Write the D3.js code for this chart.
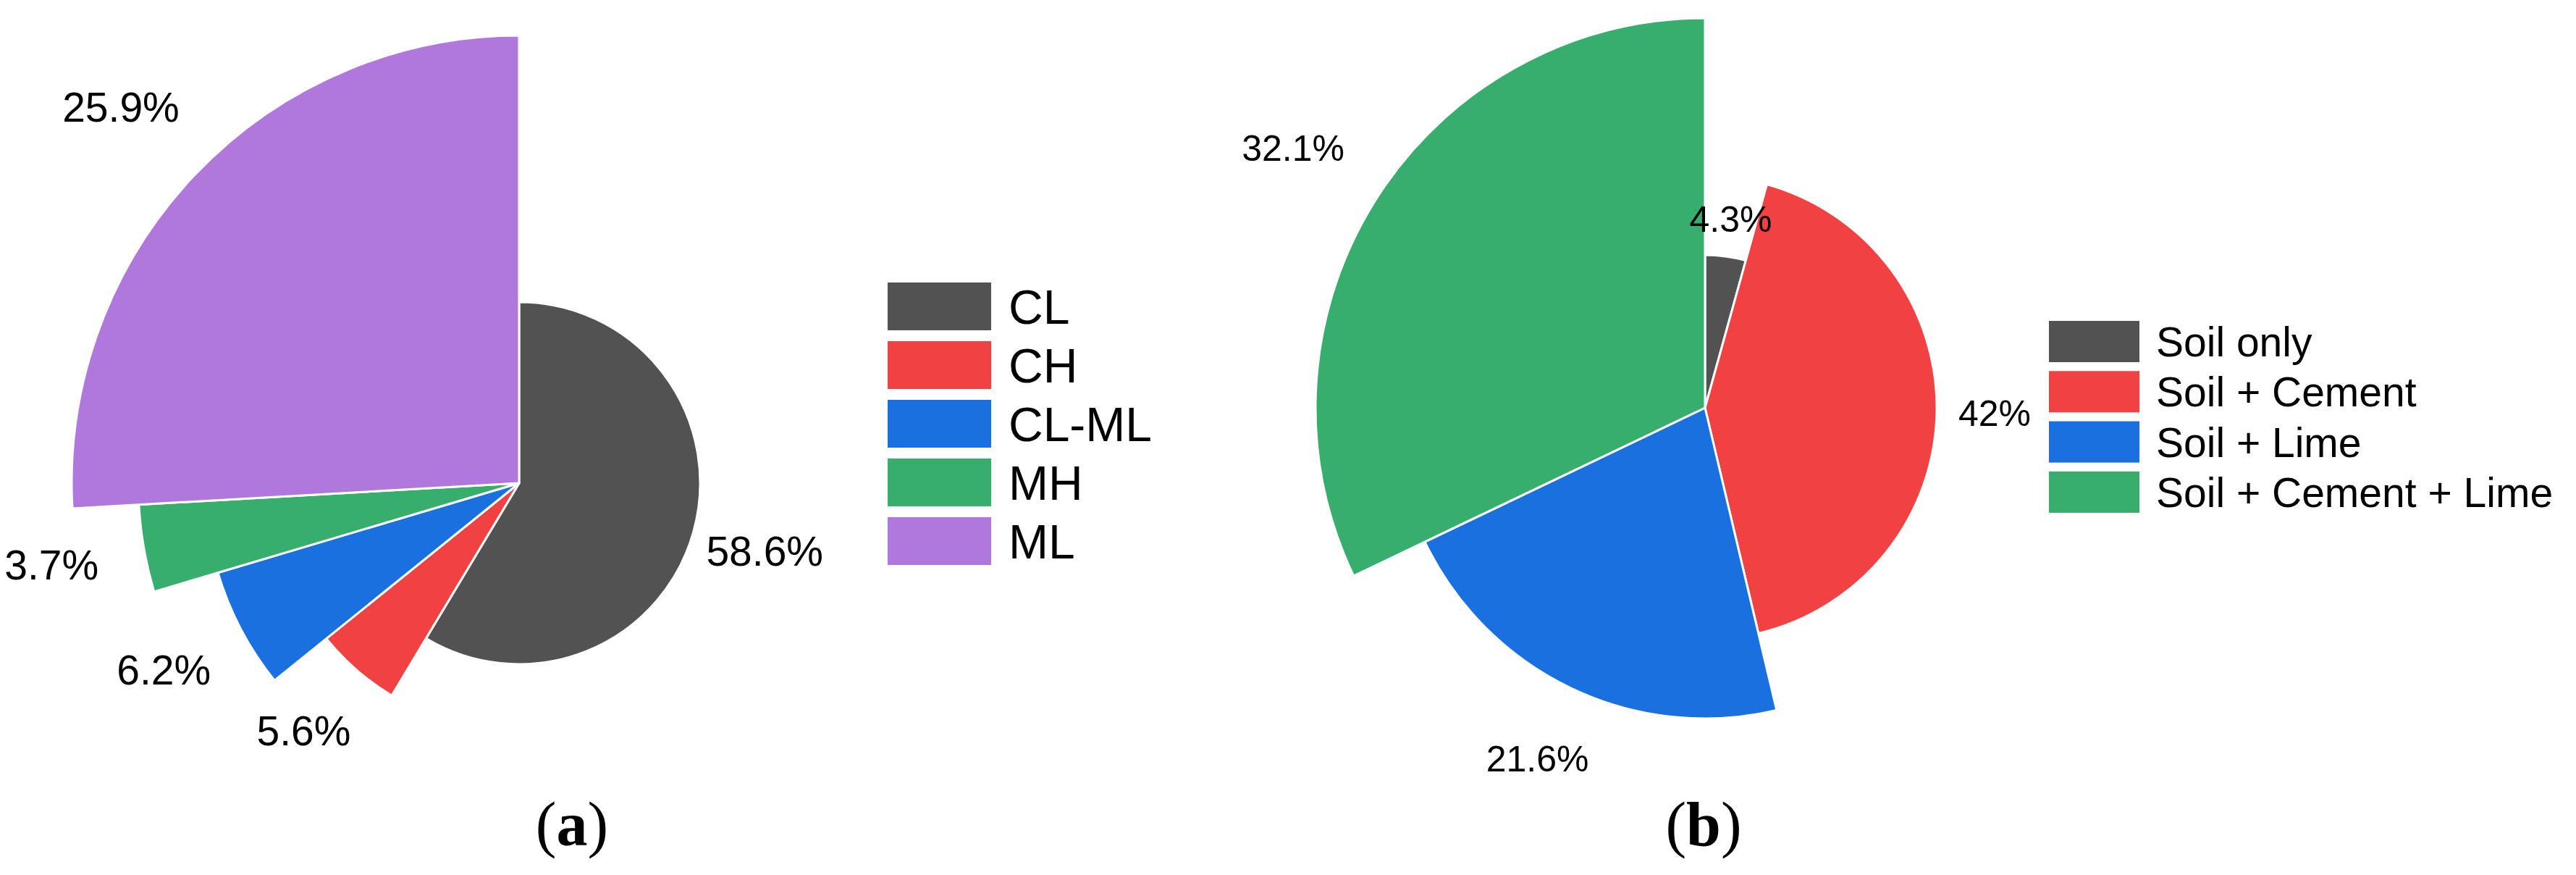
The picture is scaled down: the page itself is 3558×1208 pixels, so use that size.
<!DOCTYPE html>
<html>
<head>
<meta charset="utf-8">
<script src="https://cdn.jsdelivr.net/npm/d3@7"></script>
<style>
  html, body { margin: 0; padding: 0; background: #fff; }
  svg { display: block; }
</style>
</head>
<body>
<script>
// ---------- data ----------
const categoriesA = ["CL", "CH", "CL-ML", "MH", "ML"];
const valuesA = [58.6, 5.6, 6.2, 3.7, 25.9];
const categoriesB = ["Soil only", "Soil + Cement", "Soil + Lime", "Soil + Cement + Lime"];
const valuesB = [4.3, 42, 21.6, 32.1];
const panelTitles = ["a", "b"];

// ---------- styles ----------
const paletteA = ["#525252", "#F04242", "#1A70DE", "#38AE6D", "#B078DC"];
const paletteB = ["#525252", "#F04242", "#1A70DE", "#38AE6D"];

const W = 3558, H = 1208;
const svg = d3.select("body").append("svg").attr("width", W).attr("height", H);

function drawPanel(cfg) {
  const g = svg.append("g").attr("transform", `translate(${cfg.cx},${cfg.cy})`);
  const n = cfg.values.length;
  const rScale = d3.scaleLinear().domain([0, n - 1]).range(cfg.rRange);
  const color = d3.scaleOrdinal().domain(cfg.cats).range(cfg.palette);
  const pie = d3.pie().sort(null).value(d => d.v).startAngle(0).endAngle(2 * Math.PI);
  const data = pie(cfg.values.map((v, i) => ({ v, cat: cfg.cats[i], i })));

  g.selectAll("path.slice").data(data).join("path")
    .attr("class", "slice")
    .attr("d", d => d3.arc().innerRadius(0).outerRadius(rScale(d.data.i))(d))
    .attr("fill", d => color(d.data.cat))
    .attr("stroke", "#fff")
    .attr("stroke-width", cfg.strokeW)
    .attr("stroke-linejoin", "round");

  g.selectAll("text.lbl").data(data).join("text")
    .attr("class", "lbl")
    .attr("x", d => {
      const a = (d.startAngle + d.endAngle) / 2;
      return Math.sin(a) * cfg.labelR(rScale(d.data.i));
    })
    .attr("y", d => {
      const a = (d.startAngle + d.endAngle) / 2;
      return -Math.cos(a) * cfg.labelR(rScale(d.data.i)) + 0.358 * cfg.labelFs;
    })
    .attr("text-anchor", "middle")
    .attr("font-family", "'Liberation Sans', Arial, sans-serif")
    .attr("font-size", cfg.labelFs)
    .attr("fill", "#000")
    .text(d => d.data.v + "%");

  // legend
  const lg = svg.append("g").attr("transform", `translate(${cfg.legX},${cfg.legY})`);
  const rows = lg.selectAll("g").data(cfg.cats).join("g")
    .attr("transform", (d, i) => `translate(0,${i * cfg.legPitch})`);
  rows.append("rect")
    .attr("width", cfg.swW).attr("height", cfg.swH)
    .attr("fill", d => color(d));
  rows.append("text")
    .attr("x", cfg.textDx)
    .attr("y", cfg.swH / 2 + 0.358 * cfg.legFs)
    .attr("font-family", "'Liberation Sans', Arial, sans-serif")
    .attr("font-size", cfg.legFs)
    .attr("fill", "#000")
    .text(d => d);

  // panel title
  const t = svg.append("text")
    .attr("x", cfg.titleX).attr("y", cfg.titleY)
    .attr("text-anchor", "middle")
    .attr("font-family", "'Liberation Serif', 'Times New Roman', serif")
    .attr("font-size", 86)
    .attr("fill", "#000");
  t.append("tspan").text("(");
  t.append("tspan").attr("font-weight", "bold").text(cfg.title);
  t.append("tspan").text(")");
}

drawPanel({
  cats: categoriesA, values: valuesA, palette: paletteA,
  cx: 717, cy: 667, rRange: [250, 618], strokeW: 3,
  labelR: r => 1.1 * r + 77, labelFs: 57,
  legX: 1226, legY: 390, legPitch: 81, swW: 143, swH: 66, textDx: 167, legFs: 66,
  title: panelTitles[0], titleX: 790, titleY: 1167
});

drawPanel({
  cats: categoriesB, values: valuesB, palette: paletteB,
  cx: 2355, cy: 563, rRange: [211, 538], strokeW: 3,
  labelR: r => 1.25 * r, labelFs: 50,
  legX: 2830, legY: 443, legPitch: 69.3, swW: 125, swH: 57, textDx: 148, legFs: 57,
  title: panelTitles[1], titleX: 2353, titleY: 1167
});
</script>
</body>
</html>
